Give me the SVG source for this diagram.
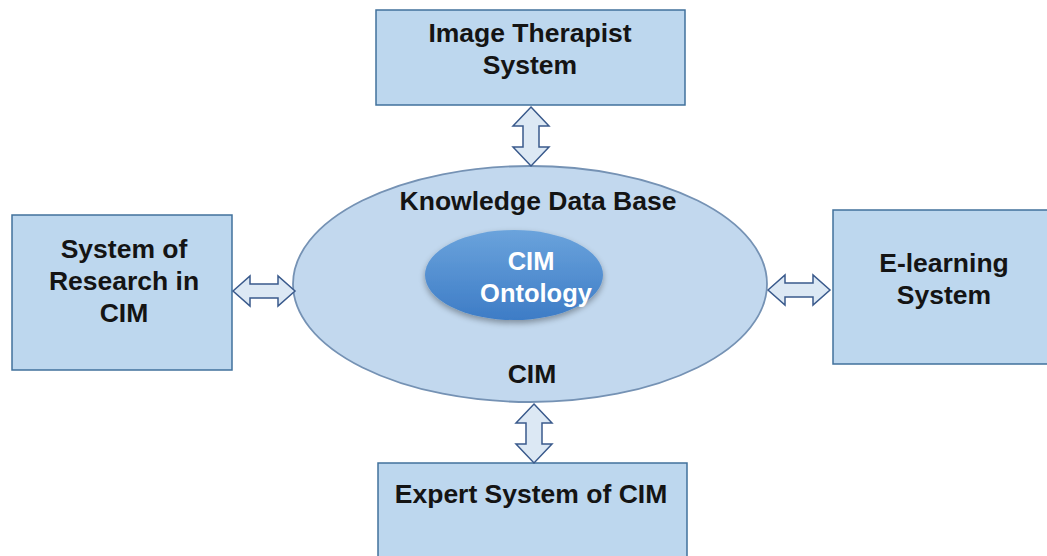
<svg xmlns="http://www.w3.org/2000/svg" width="1047" height="556" viewBox="0 0 1047 556">
  <style>
    .box { fill: #bdd7ee; stroke: #41719c; stroke-width: 1.5; }
    .kdb { fill: #c2d8ee; stroke: #7592b4; stroke-width: 1.8; }
    .arrow { fill: #dce8f4; stroke: #3a5a8c; stroke-width: 1.5; stroke-linejoin: miter; }
    .lbl { font-family: "Liberation Sans", Arial, sans-serif; font-weight: bold; font-size: 26.5px; fill: #141414; text-anchor: middle; }
    .onto { font-family: "Liberation Sans", Arial, sans-serif; font-weight: bold; font-size: 25.5px; fill: #ffffff; text-anchor: middle; }
  </style>
  <defs>
    <linearGradient id="ontoFill" x1="0" y1="0" x2="0" y2="1">
      <stop offset="0" stop-color="#6aa3dc"/>
      <stop offset="1" stop-color="#3d7cc6"/>
    </linearGradient>
    <filter id="shadow" x="-20%" y="-20%" width="140%" height="150%">
      <feGaussianBlur in="SourceAlpha" stdDeviation="3"/>
      <feOffset dx="0" dy="3" result="b"/>
      <feComponentTransfer><feFuncA type="linear" slope="0.35"/></feComponentTransfer>
      <feMerge><feMergeNode/><feMergeNode in="SourceGraphic"/></feMerge>
    </filter>
  </defs>
  <rect width="1047" height="556" fill="#ffffff"/>

  <!-- central knowledge base -->
  <g id="knowledge-base">
    <ellipse class="kdb" cx="530" cy="284" rx="237" ry="118"/>
    <text class="lbl" x="538" y="210">Knowledge Data Base</text>
    <text class="lbl" x="532" y="383">CIM</text>
  </g>

  <g id="cim-ontology">
    <ellipse cx="514" cy="275" rx="89" ry="45" fill="url(#ontoFill)" filter="url(#shadow)"/>
    <text class="onto" x="531" y="270">CIM</text>
    <text class="onto" x="536" y="302">Ontology</text>
  </g>

  <g id="image-therapist">
    <rect class="box" x="376" y="10" width="309" height="95"/>
    <text class="lbl" x="530" y="42">Image Therapist</text>
    <text class="lbl" x="530" y="74">System</text>
  </g>

  <g id="research">
    <rect class="box" x="12" y="215" width="220" height="155"/>
    <text class="lbl" x="124" y="258">System of</text>
    <text class="lbl" x="124" y="290">Research in</text>
    <text class="lbl" x="124" y="322">CIM</text>
  </g>

  <g id="e-learning">
    <rect class="box" x="833" y="210" width="230" height="154"/>
    <text class="lbl" x="944" y="272">E-learning</text>
    <text class="lbl" x="944" y="304">System</text>
  </g>

  <g id="expert-system">
    <rect class="box" x="378" y="463" width="309" height="110"/>
    <text class="lbl" x="531" y="503">Expert System of CIM</text>
  </g>

  <!-- two-way block arrows -->
  <g id="connectors">
    <polygon class="arrow" points="531,107 549,126 539,126 539,147 549,147 531,166 513,147 523,147 523,126 513,126"/>
    <polygon class="arrow" points="534,404 552,423 542,423 542,444 552,444 534,463 516,444 526,444 526,423 516,423"/>
    <polygon class="arrow" points="233,291 250,276 250,284 278,284 278,276 295,291 278,306 278,298 250,298 250,306"/>
    <polygon class="arrow" points="768,290 785,275 785,283 813,283 813,275 830,290 813,305 813,297 785,297 785,305"/>
  </g>
</svg>
